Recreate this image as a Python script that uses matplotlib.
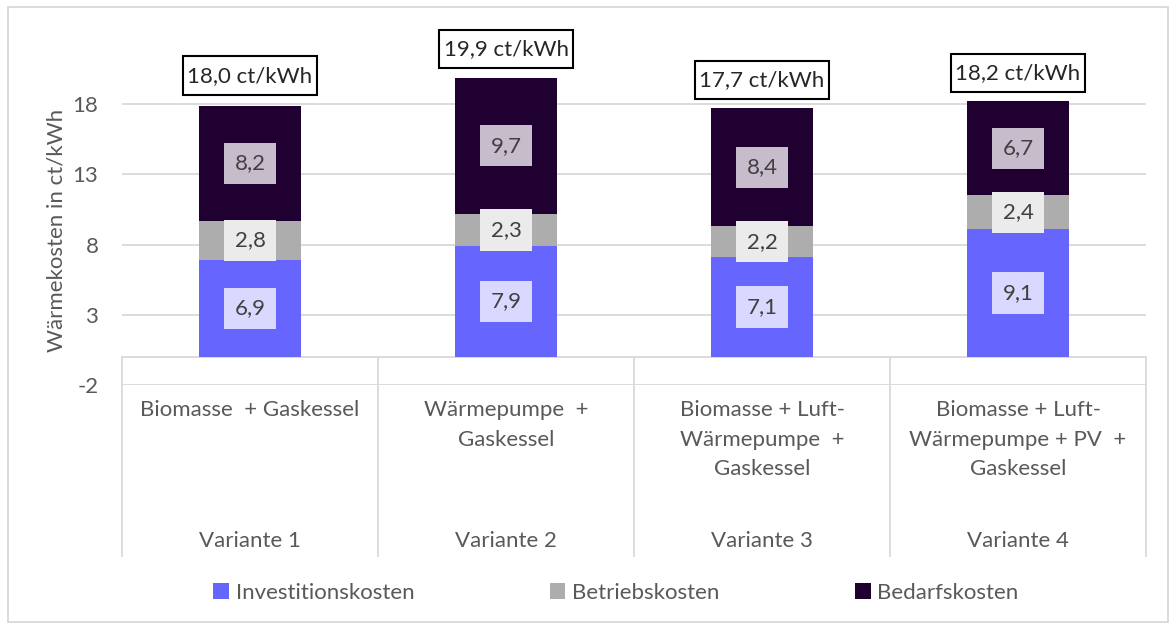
import matplotlib
matplotlib.use('Agg')
import matplotlib.pyplot as plt
from matplotlib.patches import Rectangle

plt.rcParams['font.family'] = ['Lato', 'DejaVu Sans']

# data
varianten = ['Variante 1', 'Variante 2', 'Variante 3', 'Variante 4']
systeme = ['Biomasse  + Gaskessel',
           'Wärmepumpe  +\nGaskessel',
           'Biomasse + Luft-\nWärmepumpe  +\nGaskessel',
           'Biomasse + Luft-\nWärmepumpe + PV  +\nGaskessel']
investition = [6.9, 7.9, 7.1, 9.1]
betrieb = [2.8, 2.3, 2.2, 2.4]
bedarf = [8.2, 9.7, 8.4, 6.7]
gesamt = [18.0, 19.9, 17.7, 18.2]
yticks = [-2, 3, 8, 13, 18]

series = [('Investitionskosten', investition, '#6666ff', '#d9d9ff'),
          ('Betriebskosten', betrieb, '#adadad', '#ebebeb'),
          ('Bedarfskosten', bedarf, '#1f0030', '#c6bccb')]

txt = '#595959'
fs = 16

fig = plt.figure(figsize=(11.76, 6.3), dpi=100)
ax = fig.add_axes([122/1176, 1-385/630, 1024/1176, 351/630])

x = list(range(len(varianten)))
bottom = [0]*len(x)
for name, vals, col, boxcol in series:
    bars = ax.bar(x, vals, 0.4, bottom=bottom, color=col, label=name, zorder=3)
    ax.bar_label(bars, labels=[f'{v:.1f}'.replace('.', ',') for v in vals],
                 label_type='center', fontsize=fs, color='#404040', zorder=4,
                 bbox=dict(boxstyle='square,pad=0.48', fc=boxcol, ec='none'))
    bottom = [b + v for b, v in zip(bottom, vals)]

for xi, tot in zip(x, gesamt):
    ax.annotate(f'{tot:.1f}'.replace('.', ',') + ' ct/kWh', xy=(xi, tot), xytext=(0, 20.5),
                textcoords='offset points', ha='center', va='center', fontsize=fs,
                color='#262626', zorder=5,
                bbox=dict(boxstyle='square,pad=0.2', mutation_aspect=2.1,
                          fc='white', ec='black', lw=1.5))

ax.set_xlim(-0.5, 3.5)
ax.set_ylim(-2, 23)
ax.set_yticks(yticks)
ax.set_yticklabels([str(t) for t in yticks])
ax.tick_params(axis='y', length=0, pad=17, labelsize=fs, labelcolor=txt)
ax.set_xticks([])
ax.yaxis.grid(True, color='#d9d9d9', lw=1.3, zorder=0)
ax.axhline(0, color='#d9d9d9', lw=1.3, zorder=1)
for s in ax.spines.values():
    s.set_visible(False)

ax.set_ylabel('Wärmekosten in ct/kWh', fontsize=fs, color=txt)
ax.yaxis.set_label_coords(-55/1024, 0.44)

# multi-level category axis
tr = ax.get_xaxis_transform()
y0 = 2/25
ybot = -(556-385)/351
for b in [-0.5, 0.5, 1.5, 2.5, 3.5]:
    ax.plot([b, b], [y0, ybot], transform=tr, color='#d9d9d9', lw=1.3, clip_on=False)
for xi, s, v in zip(x, systeme, varianten):
    ax.text(xi, -(400-385)/351, s, transform=tr, ha='center', va='top', fontsize=fs,
            color=txt, linespacing=1.6)
    ax.text(xi, -(541-385)/351, v, transform=tr, ha='center', va='center', fontsize=fs,
            color=txt)

fig.legend(loc='center', bbox_to_anchor=(616/1176, 1-593/630), ncol=3, frameon=False,
           fontsize=fs, labelcolor=txt, handlelength=0.7, handleheight=0.7,
           handletextpad=0.3, columnspacing=6.1)

fig.patches.append(Rectangle((8/1176, 1-622/630), 1160/1176, 615/630, transform=fig.transFigure,
                             fill=False, ec='#d9d9d9', lw=1.3))

fig.savefig('out.png', dpi=100)
